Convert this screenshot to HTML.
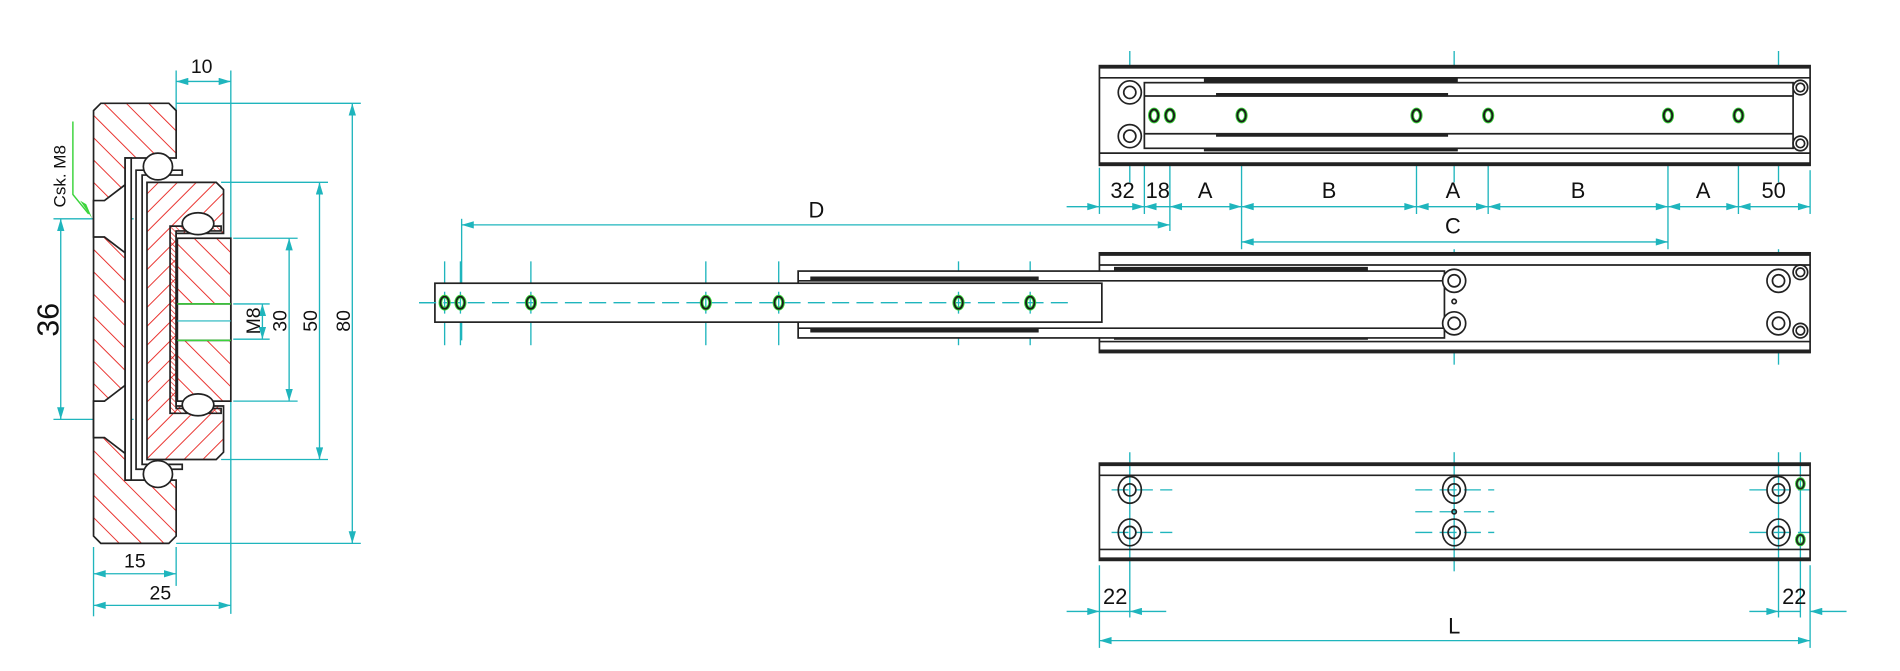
<!DOCTYPE html>
<html><head><meta charset="utf-8"><style>
html,body{margin:0;padding:0;background:#fff;}
svg{display:block;}
text{font-family:"Liberation Sans",sans-serif;fill:#111;}
</style></head><body>
<svg width="1900" height="671" viewBox="0 0 1564 552" preserveAspectRatio="none" xmlns="http://www.w3.org/2000/svg">
<defs>
<pattern id="hb" patternUnits="userSpaceOnUse" width="13" height="13" patternTransform="rotate(-45)">
<line x1="0" y1="0" x2="0" y2="13" stroke="#e8231f" stroke-width="1.5"/></pattern>
<pattern id="hf" patternUnits="userSpaceOnUse" width="11" height="11" patternTransform="rotate(45)">
<line x1="0" y1="0" x2="0" y2="11" stroke="#e8231f" stroke-width="1.5"/></pattern>
<pattern id="hs" patternUnits="userSpaceOnUse" width="3" height="3" patternTransform="rotate(-45)">
<line x1="0" y1="0" x2="0" y2="3" stroke="#e8231f" stroke-width="1.1"/></pattern>
<marker id="a" viewBox="0 0 10 6" refX="10" refY="3" markerWidth="11" markerHeight="6" orient="auto-start-reverse" markerUnits="userSpaceOnUse"><path d="M0,0L10,3L0,6z" fill="#1fb5bd"/></marker>
</defs>
<g stroke="#1fb5bd" stroke-width="1.1" fill="none">
<line x1="145" y1="67" x2="190" y2="67" marker-start="url(#a)" marker-end="url(#a)"/>
<line x1="145" y1="58" x2="145" y2="95"/><line x1="190" y1="58" x2="190" y2="505"/>
<line x1="145" y1="85" x2="297" y2="85"/><line x1="145" y1="447" x2="297" y2="447"/>
<line x1="290" y1="85" x2="290" y2="447" marker-start="url(#a)" marker-end="url(#a)"/>
<line x1="182" y1="150" x2="270" y2="150"/><line x1="182" y1="378" x2="270" y2="378"/>
<line x1="263" y1="150" x2="263" y2="378" marker-start="url(#a)" marker-end="url(#a)"/>
<line x1="192" y1="196" x2="245" y2="196"/><line x1="192" y1="330" x2="245" y2="330"/>
<line x1="238" y1="196" x2="238" y2="330" marker-start="url(#a)" marker-end="url(#a)"/>
<line x1="192" y1="250" x2="222" y2="250"/><line x1="192" y1="279" x2="222" y2="279"/>
<line x1="216" y1="250" x2="216" y2="279" marker-start="url(#a)" marker-end="url(#a)"/>
<line x1="145" y1="264" x2="180" y2="264"/>
<line x1="77" y1="450" x2="77" y2="507"/><line x1="145" y1="450" x2="145" y2="482"/>
<line x1="77" y1="472" x2="145" y2="472" marker-start="url(#a)" marker-end="url(#a)"/>
<line x1="77" y1="498" x2="190" y2="498" marker-start="url(#a)" marker-end="url(#a)"/>
<line x1="44" y1="180" x2="110" y2="180"/><line x1="44" y1="345" x2="110" y2="345"/>
<line x1="50" y1="180" x2="50" y2="345" marker-start="url(#a)" marker-end="url(#a)"/>
</g>
<g stroke="#222" stroke-width="1.4">
<path d="M83,85 L139,85 L145,91 L145,130 L103,130 L103,395 L145,395 L145,441 L139,447 L83,447 L77,441 L77,91 Z" fill="url(#hb)"/>
<path d="M77,165 L86,165 L103,152 L103,208 L86,195 L77,195 Z" fill="#fff"/>
<path d="M77,330 L86,330 L103,317 L103,373 L86,360 L77,360 Z" fill="#fff"/>
<path d="M103,130 L108,130 L108,395 L103,395 Z" fill="#fff"/>
<path d="M112,140 L150,140 L150,144 L117,144 L117,382 L150,382 L150,386 L112,386 Z" fill="#fff"/>
<path d="M121,150 L178,150 L184,156 L184,192 L145,192 L145,334 L184,334 L184,372 L178,378 L121,378 Z" fill="url(#hf)"/>
<path d="M140,186 L182,186 L182,190 L145,190 L145,336 L182,336 L182,340 L140,340 Z" fill="url(#hs)"/>
<rect x="146" y="196" width="44" height="134" fill="url(#hb)"/>
<rect x="146" y="250" width="44" height="30" fill="#fff"/>
<line x1="146" y1="264" x2="190" y2="264" stroke="#1fb5bd" stroke-width="0.9"/>
<ellipse cx="130" cy="137" rx="12" ry="11" fill="#fff"/>
<ellipse cx="130" cy="390" rx="12" ry="11" fill="#fff"/>
<ellipse cx="163" cy="184" rx="13" ry="9" fill="#fff"/>
<ellipse cx="163" cy="333" rx="13" ry="9" fill="#fff"/>
</g>
<line x1="146" y1="250" x2="190" y2="250" stroke="#3bd43b" stroke-width="1.2"/>
<line x1="146" y1="280" x2="190" y2="280" stroke="#3bd43b" stroke-width="1.2"/>
<path d="M60,100 L60,160 L73,176" stroke="#3bd43b" stroke-width="1.2" fill="none"/>
<path d="M66,165 L76,180 L71,168z" fill="#3bd43b"/>
<g font-size="16">
<text x="166" y="60" text-anchor="middle">10</text>
<text x="111" y="467" text-anchor="middle">15</text>
<text x="132" y="493" text-anchor="middle">25</text>
<text transform="translate(288,264) rotate(-90)" text-anchor="middle">80</text>
<text transform="translate(261,264) rotate(-90)" text-anchor="middle">50</text>
<text transform="translate(236,264) rotate(-90)" text-anchor="middle">30</text>
<text transform="translate(214,264) rotate(-90)" text-anchor="middle">M8</text>
<text transform="translate(54,145) rotate(-90)" text-anchor="middle" font-size="14">Csk. M8</text>
<text transform="translate(48,263) rotate(-90)" text-anchor="middle" font-size="25">36</text>
</g>

<!-- TOP RAIL -->
<g stroke="#1fb5bd" stroke-width="1.1" fill="none">
<line x1="930" y1="42" x2="930" y2="150"/><line x1="1197" y1="42" x2="1197" y2="150"/><line x1="1464" y1="42" x2="1464" y2="150"/>
<line x1="905" y1="95" x2="1480" y2="95" stroke-dasharray="14 6"/>
<line x1="910" y1="76" x2="920" y2="76"/><line x1="910" y1="112" x2="920" y2="112"/>
<line x1="905" y1="138" x2="905" y2="176"/>
<line x1="942" y1="60" x2="942" y2="176"/><line x1="963" y1="60" x2="963" y2="190"/>
<line x1="1022" y1="60" x2="1022" y2="205"/><line x1="1166" y1="60" x2="1166" y2="176"/>
<line x1="1225" y1="60" x2="1225" y2="176"/><line x1="1373" y1="60" x2="1373" y2="205"/>
<line x1="1431" y1="60" x2="1431" y2="176"/><line x1="1490" y1="140" x2="1490" y2="176"/>
<line x1="878" y1="170" x2="905" y2="170" marker-end="url(#a)"/>
<line x1="905" y1="170" x2="942" y2="170" marker-end="url(#a)"/>
<line x1="942" y1="170" x2="963" y2="170" marker-start="url(#a)"/>
<line x1="963" y1="170" x2="1022" y2="170" marker-start="url(#a)" marker-end="url(#a)"/>
<line x1="1022" y1="170" x2="1166" y2="170" marker-start="url(#a)" marker-end="url(#a)"/>
<line x1="1166" y1="170" x2="1225" y2="170" marker-start="url(#a)" marker-end="url(#a)"/>
<line x1="1225" y1="170" x2="1373" y2="170" marker-start="url(#a)" marker-end="url(#a)"/>
<line x1="1373" y1="170" x2="1431" y2="170" marker-start="url(#a)" marker-end="url(#a)"/>
<line x1="1431" y1="170" x2="1490" y2="170" marker-start="url(#a)" marker-end="url(#a)"/>
<line x1="1022" y1="199" x2="1373" y2="199" marker-start="url(#a)" marker-end="url(#a)"/>
<line x1="380" y1="185" x2="963" y2="185" marker-start="url(#a)" marker-end="url(#a)"/>
<line x1="380" y1="180" x2="380" y2="280"/>
</g>
<g stroke="#222" fill="none">
<rect x="905" y="54" width="585" height="82" stroke-width="1.4" fill="#fff"/>
<line x1="905" y1="55" x2="1490" y2="55" stroke-width="3"/><line x1="905" y1="135" x2="1490" y2="135" stroke-width="3"/>
<line x1="905" y1="64" x2="1490" y2="64" stroke-width="1.4"/><line x1="905" y1="126" x2="1490" y2="126" stroke-width="1.4"/>
<rect x="942" y="68" width="534" height="54" stroke-width="1.4"/>
<line x1="942" y1="79" x2="1476" y2="79" stroke-width="1.4"/><line x1="942" y1="110" x2="1476" y2="110" stroke-width="1.4"/>
<line x1="991" y1="66" x2="1200" y2="66" stroke-width="3"/><line x1="1001" y1="78" x2="1192" y2="78" stroke-width="3"/>
<line x1="1001" y1="111" x2="1192" y2="111" stroke-width="3"/><line x1="991" y1="123" x2="1200" y2="123" stroke-width="3"/>
</g>
<g stroke="#222" stroke-width="1.4" fill="#fff">
<circle cx="930" cy="76" r="9.5"/><circle cx="930" cy="76" r="5"/>
<circle cx="930" cy="112" r="9.5"/><circle cx="930" cy="112" r="5"/>
<circle cx="1482" cy="72" r="6"/><circle cx="1482" cy="72" r="3.5"/>
<circle cx="1482" cy="118" r="6"/><circle cx="1482" cy="118" r="3.5"/>
</g>
<g id="holesT">
<g fill="none" stroke="#3bd43b" stroke-width="3">
<ellipse cx="950" cy="95" rx="3.5" ry="5"/><ellipse cx="963" cy="95" rx="3.5" ry="5"/>
<ellipse cx="1022" cy="95" rx="3.5" ry="5"/><ellipse cx="1166" cy="95" rx="3.5" ry="5"/>
<ellipse cx="1225" cy="95" rx="3.5" ry="5"/><ellipse cx="1373" cy="95" rx="3.5" ry="5"/>
<ellipse cx="1431" cy="95" rx="3.5" ry="5"/>
</g>
<g fill="none" stroke="#1a1a1a" stroke-width="1.5">
<ellipse cx="950" cy="95" rx="3.5" ry="5"/><ellipse cx="963" cy="95" rx="3.5" ry="5"/>
<ellipse cx="1022" cy="95" rx="3.5" ry="5"/><ellipse cx="1166" cy="95" rx="3.5" ry="5"/>
<ellipse cx="1225" cy="95" rx="3.5" ry="5"/><ellipse cx="1373" cy="95" rx="3.5" ry="5"/>
<ellipse cx="1431" cy="95" rx="3.5" ry="5"/>
</g>
</g>
<g font-size="18" text-anchor="middle">
<text x="924" y="163">32</text><text x="953" y="163">18</text>
<text x="992" y="163">A</text><text x="1094" y="163">B</text><text x="1196" y="163">A</text>
<text x="1299" y="163">B</text><text x="1402" y="163">A</text><text x="1460" y="163">50</text>
<text x="1196" y="192">C</text><text x="672" y="179">D</text>
</g>

<!-- MIDDLE -->
<g stroke="#1fb5bd" stroke-width="1.1" fill="none">
<line x1="1197" y1="205" x2="1197" y2="300"/><line x1="1464" y1="205" x2="1464" y2="300"/>
<line x1="1181" y1="215" x2="1181" y2="290"/>
<line x1="345" y1="249" x2="880" y2="249" stroke-dasharray="14 6"/>
<line x1="1160" y1="248" x2="1235" y2="248" stroke-dasharray="14 6"/>
<line x1="1210" y1="231" x2="1225" y2="231"/><line x1="1210" y1="266" x2="1225" y2="266"/>
<line x1="1445" y1="231" x2="1455" y2="231"/><line x1="1445" y1="266" x2="1455" y2="266"/>
<line x1="366" y1="215" x2="366" y2="284"/><line x1="379" y1="215" x2="379" y2="284"/>
<line x1="437" y1="215" x2="437" y2="284"/><line x1="581" y1="215" x2="581" y2="284"/>
<line x1="641" y1="215" x2="641" y2="284"/><line x1="789" y1="215" x2="789" y2="284"/>
<line x1="848" y1="215" x2="848" y2="284"/>
</g>
<g stroke="#222" fill="none">
<rect x="905" y="208" width="585" height="82" stroke-width="1.4" fill="#fff"/>
<line x1="905" y1="209" x2="1490" y2="209" stroke-width="3"/><line x1="905" y1="289" x2="1490" y2="289" stroke-width="3"/>
<line x1="905" y1="218" x2="1490" y2="218" stroke-width="1.4"/><line x1="905" y1="281" x2="1490" y2="281" stroke-width="1.4"/>
<line x1="917" y1="221" x2="1126" y2="221" stroke-width="3"/><line x1="917" y1="278" x2="1126" y2="278" stroke-width="3"/>
<rect x="657" y="223" width="532" height="55" stroke-width="1.4" fill="#fff"/>
<line x1="657" y1="231" x2="1189" y2="231" stroke-width="1.4"/><line x1="657" y1="270" x2="1189" y2="270" stroke-width="1.4"/>
<line x1="667" y1="229" x2="855" y2="229" stroke-width="3"/><line x1="667" y1="272" x2="855" y2="272" stroke-width="3"/>
<rect x="358" y="233" width="549" height="32" stroke-width="1.4" fill="#fff"/>
</g>
<g stroke="#1fb5bd" stroke-width="1.1" fill="none">
<line x1="345" y1="249" x2="880" y2="249" stroke-dasharray="14 6"/>
<line x1="366" y1="240" x2="366" y2="258"/><line x1="379" y1="240" x2="379" y2="258"/>
<line x1="437" y1="240" x2="437" y2="258"/><line x1="581" y1="240" x2="581" y2="258"/>
<line x1="641" y1="240" x2="641" y2="258"/><line x1="789" y1="240" x2="789" y2="258"/>
<line x1="848" y1="240" x2="848" y2="258"/>
</g>
<g stroke="#222" stroke-width="1.4" fill="#fff">
<circle cx="1197" cy="231" r="9.5"/><circle cx="1197" cy="231" r="5"/>
<circle cx="1197" cy="266" r="9.5"/><circle cx="1197" cy="266" r="5"/>
<circle cx="1464" cy="231" r="9.5"/><circle cx="1464" cy="231" r="5"/>
<circle cx="1464" cy="266" r="9.5"/><circle cx="1464" cy="266" r="5"/>
<circle cx="1482" cy="224" r="6"/><circle cx="1482" cy="224" r="3.5"/>
<circle cx="1482" cy="272" r="6"/><circle cx="1482" cy="272" r="3.5"/>
<circle cx="1197" cy="248" r="1.8"/>
</g>
<g fill="none" stroke="#3bd43b" stroke-width="3">
<ellipse cx="366" cy="249" rx="3.5" ry="5"/><ellipse cx="379" cy="249" rx="3.5" ry="5"/>
<ellipse cx="437" cy="249" rx="3.5" ry="5"/><ellipse cx="581" cy="249" rx="3.5" ry="5"/>
<ellipse cx="641" cy="249" rx="3.5" ry="5"/><ellipse cx="789" cy="249" rx="3.5" ry="5"/>
<ellipse cx="848" cy="249" rx="3.5" ry="5"/>
</g>
<g fill="none" stroke="#1a1a1a" stroke-width="1.5">
<ellipse cx="366" cy="249" rx="3.5" ry="5"/><ellipse cx="379" cy="249" rx="3.5" ry="5"/>
<ellipse cx="437" cy="249" rx="3.5" ry="5"/><ellipse cx="581" cy="249" rx="3.5" ry="5"/>
<ellipse cx="641" cy="249" rx="3.5" ry="5"/><ellipse cx="789" cy="249" rx="3.5" ry="5"/>
<ellipse cx="848" cy="249" rx="3.5" ry="5"/>
</g>

<!-- BOTTOM -->
<g stroke="#1fb5bd" stroke-width="1.1" fill="none">
<line x1="930" y1="372" x2="930" y2="508"/><line x1="1197" y1="372" x2="1197" y2="470"/>
<line x1="1464" y1="372" x2="1464" y2="508"/><line x1="1482" y1="372" x2="1482" y2="508"/>
<line x1="905" y1="465" x2="905" y2="533"/><line x1="1490" y1="465" x2="1490" y2="533"/>
<g stroke-dasharray="14 6">
<line x1="915" y1="403" x2="965" y2="403"/><line x1="915" y1="438" x2="965" y2="438"/>
<line x1="1165" y1="403" x2="1230" y2="403"/><line x1="1165" y1="438" x2="1230" y2="438"/>
<line x1="1165" y1="421" x2="1230" y2="421"/>
<line x1="1440" y1="403" x2="1490" y2="403"/><line x1="1440" y1="438" x2="1490" y2="438"/>
</g>
<line x1="878" y1="503" x2="905" y2="503" marker-end="url(#a)"/>
<line x1="905" y1="503" x2="930" y2="503"/>
<line x1="960" y1="503" x2="930" y2="503" marker-end="url(#a)"/>
<line x1="1440" y1="503" x2="1464" y2="503" marker-end="url(#a)"/>
<line x1="1464" y1="503" x2="1482" y2="503"/>
<line x1="1520" y1="503" x2="1490" y2="503" marker-end="url(#a)"/>
<line x1="905" y1="527" x2="1490" y2="527" marker-start="url(#a)" marker-end="url(#a)"/>
</g>
<g stroke="#222" fill="none">
<rect x="905" y="381" width="585" height="80" stroke-width="1.4"/>
<line x1="905" y1="382" x2="1490" y2="382" stroke-width="3"/><line x1="905" y1="460" x2="1490" y2="460" stroke-width="3"/>
<line x1="905" y1="391" x2="1490" y2="391" stroke-width="1.4"/><line x1="905" y1="452" x2="1490" y2="452" stroke-width="1.4"/>
</g>
<g stroke="#222" stroke-width="1.4" fill="none">
<ellipse cx="930" cy="403" rx="9.5" ry="11"/><circle cx="930" cy="403" r="5"/>
<ellipse cx="930" cy="438" rx="9.5" ry="11"/><circle cx="930" cy="438" r="5"/>
<ellipse cx="1197" cy="403" rx="9.5" ry="11"/><circle cx="1197" cy="403" r="5"/>
<ellipse cx="1197" cy="438" rx="9.5" ry="11"/><circle cx="1197" cy="438" r="5"/>
<ellipse cx="1464" cy="403" rx="9.5" ry="11"/><circle cx="1464" cy="403" r="5"/>
<ellipse cx="1464" cy="438" rx="9.5" ry="11"/><circle cx="1464" cy="438" r="5"/>
<circle cx="1197" cy="421" r="1.8"/>
</g>
<g fill="none" stroke="#3bd43b" stroke-width="2.8"><ellipse cx="1482" cy="398" rx="3" ry="4"/><ellipse cx="1482" cy="444" rx="3" ry="4"/></g>
<g fill="none" stroke="#222" stroke-width="1.4"><ellipse cx="1482" cy="398" rx="3" ry="4"/><ellipse cx="1482" cy="444" rx="3" ry="4"/></g>
<g font-size="18" text-anchor="middle">
<text x="918" y="497">22</text><text x="1477" y="497">22</text>
<text x="1197" y="521">L</text>
</g>
</svg>
</body></html>
